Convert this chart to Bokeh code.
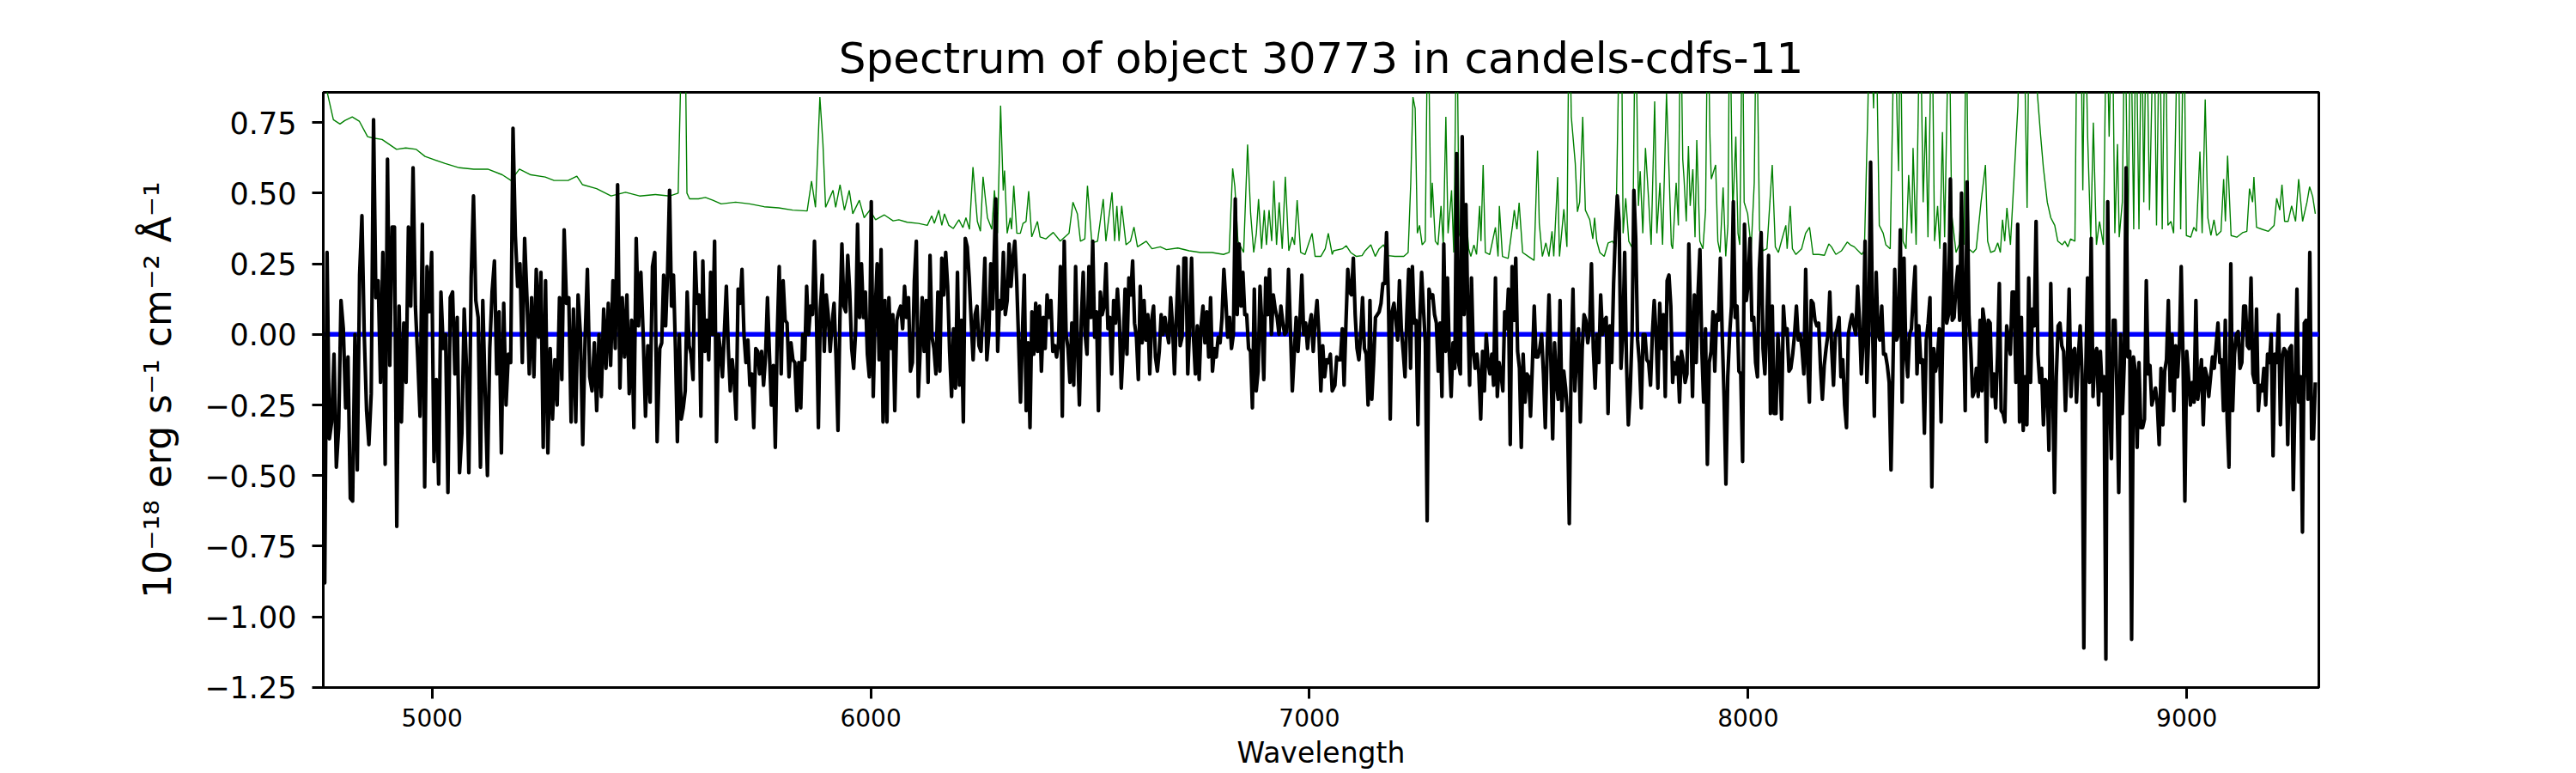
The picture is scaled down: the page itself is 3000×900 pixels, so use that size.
import numpy as np
from bokeh.plotting import figure
from bokeh.models import Span, FixedTicker, Range1d
from bokeh.embed import file_html
from bokeh.resources import INLINE

TITLE = "Spectrum of object 30773 in candels-cdfs-11"
X_LABEL = "Wavelength"
Y_LABEL = "10\u207b\u00b9\u2078 erg s\u207b\u00b9 cm\u207b\u00b2 \u00c5\u207b\u00b9"

x_ticks = [5000, 6000, 7000, 8000, 9000]
y_ticks = [-1.25, -1.0, -0.75, -0.5, -0.25, 0.0, 0.25, 0.5, 0.75]

# flux (black), read in six wavelength segments, values evenly spaced within each
seg_edges = [(4750, 5513), (5519, 6278), (6285, 7052), (7058, 7828), (7831, 8533), (8535, 9293)]

flux_1 = [0.16, -0.88, 0.29, -0.37, -0.31, -0.07, -0.47, -0.33, 0.12, 0.02, -0.26, -0.08, -0.58, -0.59, 0.0, -0.48,
          0.21, 0.42, 0.0, -0.27, -0.39, -0.21, 0.76, 0.13, 0.19, -0.17, 0.29, -0.46, 0.62, -0.11, 0.38, 0.38, -0.68,
          0.10, -0.31, 0.04, -0.17, 0.38, 0.10, 0.59, 0.10, -0.08, -0.29, 0.39, -0.54, 0.24, 0.08, 0.29, -0.45, -0.16,
          -0.53, 0.15, -0.05, 0.0, -0.56, 0.13, 0.15, -0.14, 0.06, -0.49, -0.35, 0.09, -0.12, -0.49, 0.20, 0.49, 0.12,
          0.06, -0.47, 0.12, -0.20, -0.50, -0.05, 0.15, 0.26, -0.14, 0.08, -0.42, 0.11, -0.25, -0.07, -0.10, 0.73, 0.35,
          0.17, 0.25, -0.10, 0.34, 0.13, -0.14, 0.13, -0.15, 0.23, -0.01, 0.22, -0.40, 0.19, -0.42, -0.05, -0.30, -0.09,
          -0.25, 0.13, -0.16, 0.37, 0.11, 0.13, -0.31, 0.09, -0.31, 0.14, 0.0, -0.39, -0.02, 0.23, -0.15, -0.20, -0.03,
          -0.27, 0.0, -0.22, 0.09, -0.12, 0.11, -0.11, 0.19, -0.05, 0.53, -0.19, 0.13, -0.08, 0.14, -0.21, 0.05, -0.33,
          0.34, 0.03, 0.22, 0.0, -0.29, -0.04, -0.24, 0.24, 0.29, -0.38]

flux_2 = [-0.05, -0.03, 0.21, 0.03, 0.22, 0.51, 0.10, 0.21, -0.05, -0.38, 0.0, -0.30, -0.26, -0.20, 0.15, -0.04,
          -0.07, -0.16, 0.29, 0.11, 0.14, -0.29, 0.26, -0.06, 0.05, -0.09, 0.22, 0.0, 0.33, -0.38, 0.0, -0.06, -0.15,
          0.01, 0.17, -0.05, -0.20, -0.09, -0.16, -0.30, 0.16, 0.11, 0.23, 0.0, -0.10, -0.02, -0.18, -0.14, -0.33,
          -0.05, -0.06, -0.14, -0.06, -0.18, -0.08, 0.13, -0.07, -0.25, -0.11, -0.40, 0.0, 0.24, -0.14, 0.19, 0.05,
          0.04, -0.15, -0.03, -0.09, -0.10, -0.27, -0.10, -0.26, 0.0, -0.09, 0.17, 0.0, 0.10, 0.07, 0.33, 0.07, -0.33,
          0.09, 0.21, -0.06, 0.14, 0.07, -0.06, 0.04, 0.11, -0.08, -0.34, 0.06, 0.32, 0.10, 0.08, 0.28, 0.15, -0.05,
          -0.12, 0.01, 0.39, 0.06, 0.25, 0.06, 0.15, -0.07, -0.15, 0.47, -0.22, 0.08, 0.25, -0.09, 0.30, -0.31, 0.12,
          -0.31, 0.13, -0.05, 0.07, -0.27, 0.05, 0.08, 0.10, 0.02, 0.17, 0.06, 0.13, -0.13, -0.10, 0.19, 0.33, -0.22,
          -0.05, 0.13, -0.06, 0.12, -0.17, 0.28, -0.01, -0.05, -0.14, 0.15, -0.13, 0.27, 0.14, 0.29, 0.17, -0.06,
          -0.22, 0.02, -0.19, 0.22, -0.18, 0.05, -0.31, 0.34, 0.31, 0.20, 0.05, -0.09, 0.07, 0.10, -0.04, -0.06, 0.09,
          0.27, -0.09, 0.0, 0.25, 0.09]

flux_3 = [0.48, -0.06, 0.12, 0.09, 0.29, 0.07, 0.12, 0.32, 0.17, 0.27, 0.33, 0.19, -0.02, -0.24, 0.0, 0.21, -0.27,
          -0.03, -0.33, 0.08, -0.07, 0.11, -0.06, 0.10, -0.13, 0.06, -0.05, 0.14, 0.06, 0.12, -0.06, -0.04, -0.08,
          -0.03, 0.24, -0.29, 0.33, 0.0, -0.05, -0.17, 0.04, -0.18, 0.24, -0.05, -0.25, 0.05, 0.22, 0.0, -0.07, 0.24,
          0.06, 0.33, -0.01, 0.08, -0.27, 0.15, 0.07, 0.10, 0.25, 0.02, 0.06, -0.14, 0.12, 0.04, 0.16, 0.05, -0.19,
          -0.05, 0.16, -0.07, 0.20, 0.14, 0.26, 0.04, -0.01, -0.16, 0.17, -0.03, 0.12, -0.02, 0.07, -0.14, 0.05, 0.10,
          -0.08, -0.13, -0.06, 0.07, 0.0, 0.06, 0.01, -0.03, 0.13, 0.03, -0.14, 0.06, 0.24, -0.04, -0.01, 0.27, 0.27,
          -0.14, 0.03, 0.27, -0.01, -0.14, 0.03, -0.16, 0.03, 0.10, -0.03, 0.08, -0.08, 0.13, -0.13, -0.05, -0.08,
          -0.01, -0.03, 0.06, 0.23, 0.12, -0.01, 0.06, -0.05, 0.0, 0.48, 0.07, 0.32, 0.10, 0.22, 0.07, 0.07, -0.05,
          -0.06, -0.26, 0.16, -0.20, -0.13, 0.17, 0.03, -0.16, 0.20, 0.07, 0.23, 0.0, 0.14, 0.09, 0.06, 0.0, 0.10,
          0.04, 0.0, 0.01, 0.23, 0.02, -0.20, -0.07, 0.06, -0.06, 0.05, 0.21, 0.0, 0.04, -0.05, 0.03, 0.07, -0.06,
          0.05, 0.12, 0.0, -0.20, -0.04, -0.15, -0.09, -0.10, -0.07, -0.20]

flux_4 = [-0.18, -0.08, -0.09, -0.09, 0.02, -0.18, 0.04, 0.23, 0.15, 0.14, 0.27, 0.07, -0.05, -0.09, 0.0, 0.13,
          -0.05, -0.07, -0.25, 0.12, -0.23, -0.10, 0.06, 0.07, 0.08, 0.11, 0.18, 0.18, 0.36, 0.13, -0.30, 0.08, 0.11,
          0.05, -0.02, 0.19, 0.02, -0.06, -0.15, 0.07, 0.23, -0.12, 0.24, 0.04, 0.05, -0.32, 0.05, 0.22, 0.09, -0.03,
          -0.66, 0.16, 0.13, 0.14, 0.07, 0.04, -0.13, 0.04, -0.22, 0.32, -0.06, 0.20, -0.07, -0.22, -0.03, -0.12, 0.64,
          -0.10, -0.14, 0.70, 0.07, 0.46, 0.09, -0.18, 0.20, -0.06, -0.12, -0.07, -0.14, -0.30, -0.06, -0.20, 0.0,
          -0.10, -0.14, -0.07, -0.18, 0.20, -0.22, -0.10, -0.14, -0.20, 0.08, 0.02, 0.16, -0.39, 0.24, 0.05, 0.27,
          -0.06, -0.12, -0.40, -0.07, -0.24, -0.14, -0.15, -0.29, -0.11, 0.10, -0.08, -0.08, -0.05, 0.0, -0.14, -0.33,
          -0.06, 0.14, -0.09, -0.37, -0.03, -0.17, -0.23, 0.12, -0.27, -0.13, -0.19, -0.28, -0.67, -0.10, 0.16, -0.20,
          -0.07, 0.02, -0.31, -0.05, 0.07, 0.05, -0.03, 0.02, 0.25, -0.05, -0.19, 0.0, -0.10, 0.14, 0.0, 0.05, 0.06,
          -0.28, 0.03, -0.10, 0.18, 0.36, 0.49, 0.40, -0.12, 0.0, 0.29, -0.10, -0.32, -0.20, 0.0, 0.51, 0.34, -0.02,
          -0.10, -0.26, 0.0, 0.0, -0.09, -0.10, -0.18, 0.0, 0.12, 0.0, -0.19, 0.11, -0.05, 0.07, -0.22, 0.19, 0.21,
          0.10, -0.17]

flux_5 = [-0.10, -0.14, -0.08, -0.24, -0.06, -0.10, -0.17, -0.14, 0.32, 0.05, -0.22, 0.14, -0.10, 0.15, 0.30, -0.05,
          -0.24, 0.02, -0.46, -0.10, -0.06, 0.08, -0.13, 0.07, 0.05, 0.27, 0.0, -0.22, -0.53, -0.15, 0.0, 0.10, 0.47,
          0.06, 0.10, -0.13, -0.14, -0.45, 0.39, 0.12, 0.18, 0.34, 0.05, 0.06, -0.10, -0.15, 0.23, 0.36, -0.05, -0.14,
          0.03, 0.28, -0.28, 0.10, -0.28, -0.28, 0.0, -0.10, -0.30, 0.10, 0.0, 0.02, -0.13, -0.12, -0.07, 0.0, 0.10,
          -0.02, 0.0, -0.05, -0.14, 0.23, -0.10, -0.24, 0.12, 0.11, 0.05, 0.03, 0.04, -0.12, -0.23, -0.11, -0.05, 0.0,
          0.15, -0.05, -0.18, 0.0, 0.02, 0.06, -0.15, -0.09, -0.25, -0.33, 0.0, 0.04, 0.07, 0.03, 0.0, 0.17, 0.05,
          -0.14, -0.02, 0.33, -0.17, 0.0, 0.61, 0.05, -0.29, 0.22, 0.0, -0.02, 0.10, -0.07, -0.07, -0.11, -0.17,
          -0.48, -0.14, 0.23, -0.02, 0.0, 0.37, -0.24, 0.27, -0.07, -0.15, 0.0, 0.02, 0.14, 0.24, -0.14, 0.03, -0.10,
          -0.09, -0.35, -0.02, 0.04, 0.13, -0.54, -0.05, -0.13, -0.09, 0.02, -0.31, 0.04, 0.32, 0.04, 0.07, 0.55,
          0.05, 0.06, 0.17, 0.24, 0.05, 0.50, 0.07, -0.27, 0.54, 0.07, -0.05, -0.22, -0.20, -0.12, -0.22, 0.05, -0.20]

flux_6 = [0.09, 0.04, -0.38, 0.05, 0.04, -0.22, -0.14, -0.26, -0.08, 0.18, -0.27, -0.28, -0.31, 0.03, -0.02, -0.07,
          0.15, 0.15, -0.17, 0.39, -0.31, 0.06, -0.34, -0.15, -0.32, 0.20, -0.17, 0.09, 0.03, 0.40, -0.07, -0.17,
          -0.12, -0.32, -0.16, -0.17, -0.41, 0.18, -0.17, -0.56, -0.15, 0.03, 0.04, -0.04, -0.06, -0.27, -0.10, 0.16,
          -0.22, -0.06, -0.05, -0.24, -0.08, 0.03, -0.14, -1.11, -0.15, 0.20, -0.17, 0.34, -0.22, -0.07, -0.05, -0.25,
          -0.06, -0.20, -0.15, -1.15, 0.47, -0.20, -0.44, 0.05, 0.05, -0.20, -0.56, 0.0, -0.28, -0.10, 0.59, -0.08,
          -0.06, -1.08, -0.08, -0.13, -0.40, -0.10, -0.33, -0.33, -0.30, 0.19, -0.14, -0.11, -0.25, -0.22, -0.19,
          -0.25, -0.39, -0.12, -0.32, -0.13, -0.09, 0.12, -0.20, 0.0, -0.27, -0.04, -0.15, -0.04, 0.24, -0.09, -0.59,
          -0.06, -0.15, -0.25, -0.17, -0.24, 0.12, -0.23, -0.17, -0.09, -0.32, -0.12, -0.15, -0.22, -0.15, -0.08,
          -0.12, -0.04, 0.04, -0.10, -0.09, -0.27, 0.05, -0.30, -0.47, 0.25, -0.27, -0.07, 0.0, 0.01, -0.12, -0.10,
          0.10, 0.10, -0.04, -0.05, 0.20, -0.14, -0.17, 0.09, -0.27, -0.18, -0.20, -0.12, -0.25, -0.07, -0.10, 0.0,
          -0.43, -0.07, -0.10, 0.07, -0.32, -0.08, -0.05, -0.06, -0.39, -0.05, -0.04, -0.55, -0.20, 0.16, -0.24,
          -0.15, -0.70, 0.04, 0.05, -0.23, 0.29, -0.37, -0.37, -0.17]

flux_segments = [flux_1, flux_2, flux_3, flux_4, flux_5, flux_6]

# error spectrum (green)
err_wave = [4750, 4762, 4775, 4790, 4801, 4818, 4834, 4853, 4866, 4886, 4919, 4940, 4964, 4984, 5030, 5062, 5095,
            5127, 5160, 5180, 5199, 5225, 5258, 5278, 5310, 5330, 5343, 5375, 5408, 5441, 5473,
            5509, 5542, 5561, 5571, 5576, 5581, 5587, 5607, 5623, 5640, 5659, 5692, 5724, 5757, 5790, 5822, 5855,
            5865, 5874, 5884, 5891, 5897, 5914, 5920, 5930, 5940, 5951, 5959, 5974, 5985, 5998, 6011, 6031, 6051,
            6064, 6083, 6109, 6129, 6139, 6145, 6155, 6162, 6168, 6178, 6188, 6201, 6210, 6217, 6225, 6233, 6243,
            6250, 6256, 6266, 6276,
            6282, 6289, 6296, 6302, 6305, 6311, 6318, 6321, 6326, 6333, 6341, 6347, 6354, 6360, 6367, 6380, 6386,
            6399, 6416, 6432, 6452, 6461, 6471, 6478, 6488, 6494, 6504, 6517, 6530, 6536, 6550, 6556, 6561, 6566,
            6572, 6582, 6592, 6600, 6608, 6628, 6641, 6660, 6674, 6700, 6726, 6752, 6778, 6804, 6817, 6825, 6830,
            6837, 6850, 6859, 6866, 6873, 6879, 6884, 6891, 6897, 6902, 6908, 6914, 6919, 6925, 6931, 6938, 6945,
            6953, 6961, 6966, 6972, 6980, 6990, 7000, 7006, 7013, 7026, 7036, 7043, 7052,
            7055, 7075, 7084, 7094, 7107, 7120, 7127, 7140, 7150, 7159, 7169, 7179, 7195, 7215, 7225, 7231, 7236,
            7241, 7246, 7251, 7257, 7264, 7270, 7277, 7280, 7287, 7293, 7300, 7305, 7311, 7316, 7324, 7329, 7336,
            7341, 7349, 7357, 7363, 7368, 7375, 7381, 7388, 7391, 7396, 7401, 7411, 7424, 7430, 7433, 7440, 7453,
            7463, 7467, 7473, 7478, 7486, 7499, 7512, 7520, 7524, 7531, 7539, 7546, 7553, 7557, 7566, 7570, 7580,
            7587, 7592, 7597, 7606, 7611, 7616, 7623, 7629, 7639, 7646, 7650, 7655, 7662, 7672, 7681, 7691, 7698,
            7704, 7711, 7715, 7721, 7728, 7737, 7743, 7750, 7754, 7760, 7766, 7773, 7779, 7787, 7792, 7799, 7805,
            7814, 7820, 7825,
            7828, 7836, 7841, 7846, 7851, 7854, 7859, 7864, 7868, 7874, 7879, 7883, 7890, 7897, 7903, 7908, 7913,
            7916, 7926, 7931, 7936, 7943, 7949, 7954, 7958, 7965, 7972, 7977, 7981, 7987, 7991, 7999, 8007, 8014,
            8019, 8026, 8034, 8043, 8055, 8062, 8069, 8076, 8086, 8089, 8096, 8101, 8109, 8122, 8131, 8140, 8148,
            8161, 8174, 8184, 8190, 8200, 8213, 8226, 8233, 8242, 8259, 8265, 8273, 8278, 8286, 8291, 8299, 8308,
            8314, 8324, 8334, 8340, 8343, 8347, 8353, 8360, 8366, 8373, 8376, 8383, 8392, 8399, 8405, 8410, 8419,
            8425, 8432, 8437, 8443, 8448, 8458, 8464, 8474, 8481, 8487, 8492, 8497, 8503, 8513, 8520, 8531,
            8541, 8546, 8553, 8562, 8569, 8575, 8580, 8585, 8590, 8598, 8608, 8615, 8621, 8628, 8636, 8641, 8647,
            8660, 8667, 8673, 8682, 8690, 8699, 8706, 8716, 8722, 8729, 8735, 8745, 8750, 8758, 8763, 8768, 8774,
            8781, 8787, 8794, 8801, 8810, 8817, 8823, 8830, 8836, 8842, 8846, 8853, 8859, 8866, 8872, 8879, 8884,
            8891, 8897, 8902, 8908, 8915, 8925, 8931, 8938, 8944, 8951, 8957, 8964, 8970, 8980, 8986, 8993, 8999,
            9009, 9016, 9022, 9030, 9035, 9042, 9048, 9055, 9062, 9068, 9078, 9084, 9088, 9093, 9101, 9114, 9127,
            9137, 9143, 9150, 9153, 9159, 9172, 9186, 9199, 9205, 9212, 9217, 9223, 9231, 9239, 9248, 9255, 9264,
            9274, 9280, 9287, 9293]

err_flux = [0.95, 0.85, 0.76, 0.745, 0.757, 0.77, 0.755, 0.70, 0.695, 0.69, 0.655, 0.66, 0.655, 0.63, 0.605, 0.59,
            0.585, 0.585, 0.565, 0.545, 0.585, 0.565, 0.557, 0.545, 0.545, 0.56, 0.53, 0.516, 0.49, 0.503, 0.49,
            0.495, 0.49, 0.50, 1.2, 1.2, 0.50, 0.48, 0.48, 0.485, 0.475, 0.462, 0.468, 0.462, 0.452, 0.448, 0.44,
            0.437, 0.543, 0.45, 0.84, 0.675, 0.45, 0.51, 0.45, 0.53, 0.44, 0.51, 0.427, 0.475, 0.413, 0.44, 0.406,
            0.423, 0.402, 0.406, 0.397, 0.393, 0.386, 0.42, 0.393, 0.44, 0.386, 0.427, 0.386, 0.375, 0.406, 0.378,
            0.413, 0.372, 0.592, 0.40, 0.365, 0.558, 0.413, 0.372,
            0.51, 0.358, 0.81, 0.51, 0.58, 0.358, 0.413, 0.372, 0.526, 0.358, 0.358, 0.393, 0.40, 0.507, 0.345, 0.40,
            0.345, 0.338, 0.361, 0.33, 0.358, 0.468, 0.427, 0.33, 0.338, 0.526, 0.324, 0.33, 0.479, 0.33, 0.503, 0.33,
            0.455, 0.33, 0.455, 0.317, 0.33, 0.38, 0.31, 0.33, 0.303, 0.31, 0.30, 0.306, 0.296, 0.29, 0.29, 0.283,
            0.29, 0.588, 0.523, 0.33, 0.29, 0.672, 0.427, 0.29, 0.358, 0.479, 0.303, 0.44, 0.317, 0.44, 0.33, 0.544,
            0.317, 0.468, 0.303, 0.558, 0.296, 0.345, 0.317, 0.475, 0.29, 0.283, 0.33, 0.358, 0.276, 0.276, 0.303,
            0.358, 0.283,
            0.296, 0.303, 0.314, 0.29, 0.276, 0.279, 0.296, 0.317, 0.276, 0.303, 0.317, 0.279, 0.276, 0.276, 0.29,
            0.537, 0.84, 0.80, 0.358, 0.386, 0.317, 0.33, 1.2, 0.413, 0.537, 0.33, 0.317, 0.455, 0.317, 0.77, 0.358,
            0.51, 0.29, 1.2, 0.358, 0.317, 0.427, 0.303, 0.276, 0.317, 0.283, 0.455, 0.33, 0.60, 0.29, 0.283, 0.379,
            0.276, 0.455, 0.276, 0.269, 0.386, 0.44, 0.372, 0.466, 0.29, 0.276, 0.262, 0.65, 0.393, 0.276, 0.324,
            0.276, 0.365, 0.276, 0.557, 0.276, 0.443, 0.31, 1.2, 0.77, 0.605, 0.434, 0.468, 0.77, 0.44, 0.406, 0.338,
            0.413, 0.33, 0.29, 0.276, 0.324, 0.33, 0.31, 0.853, 1.2, 0.358, 0.482, 0.33, 0.303, 1.2, 0.455, 0.578,
            0.358, 0.66, 0.482, 0.317, 0.825, 0.358, 0.537, 0.317, 0.853, 0.565, 0.317,
            0.303, 0.537, 0.386, 1.2, 0.62, 0.55, 0.40, 0.667, 0.455, 0.585, 0.344, 0.688, 0.33, 0.303, 0.44, 1.2,
            0.70, 0.55, 0.60, 0.33, 0.29, 0.52, 0.276, 0.386, 1.2, 0.427, 0.70, 0.358, 0.317, 1.2, 0.468, 0.427,
            0.303, 0.537, 1.2, 0.372, 0.296, 0.303, 0.60, 0.31, 0.29, 0.33, 0.386, 0.303, 0.455, 0.303, 0.283, 0.303,
            0.358, 0.379, 0.283, 0.283, 0.28, 0.32, 0.31, 0.283, 0.296, 0.327, 0.317, 0.31, 0.283, 0.296, 0.80, 1.2,
            0.80, 1.2, 0.386, 0.358, 0.317, 0.303, 1.2, 0.743, 0.578, 1.2, 0.33, 0.303, 0.564, 0.358, 0.66, 0.317,
            1.2, 0.468, 0.77, 0.344, 1.2, 0.33, 0.455, 0.303, 0.716, 0.344, 1.2, 0.427, 0.29, 0.317, 0.455, 0.317,
            1.2, 0.303, 0.29, 0.303, 0.468,
            0.60, 0.33, 0.29, 0.296, 0.324, 0.29, 0.406, 0.33, 0.448, 0.317, 0.605, 0.81, 1.2, 1.2, 0.448, 1.2, 1.2,
            0.84, 0.70, 0.592, 0.468, 0.413, 0.386, 0.33, 0.317, 0.33, 0.31, 0.338, 0.33, 1.2, 1.2, 0.51, 1.2, 0.70,
            0.338, 0.75, 0.317, 0.40, 0.317, 1.2, 0.70, 1.2, 0.358, 0.674, 0.344, 0.468, 1.2, 0.33, 1.2, 0.372, 1.2,
            0.372, 1.2, 0.468, 1.2, 0.44, 1.2, 0.386, 1.2, 0.372, 1.2, 0.386, 0.40, 0.358, 1.2, 0.372, 1.2, 0.35,
            0.344, 0.379, 0.365, 0.647, 0.358, 0.832, 0.413, 0.35, 0.406, 0.35, 0.365, 0.55, 0.40, 0.633, 0.35, 0.344,
            0.36, 0.365, 0.516, 0.468, 0.557, 0.379, 0.372, 0.365, 0.386, 0.482, 0.44, 0.53, 0.40, 0.40, 0.455, 0.40,
            0.55, 0.40, 0.468, 0.523, 0.488, 0.427]

wave = np.concatenate([np.linspace(a, b, len(f)) for (a, b), f in zip(seg_edges, flux_segments)])
flux = np.concatenate([np.asarray(f, dtype=float) for f in flux_segments])

FONT = "DejaVu Sans"

p = figure(frame_width=2324, frame_height=693,
           x_range=Range1d(4752, 9301), y_range=Range1d(-1.2503, 0.857),
           min_border_left=376, min_border_right=284, min_border_top=107, min_border_bottom=99,
           output_backend="svg", toolbar_location=None, title=TITLE)

p.title.text_font = FONT
p.title.text_font_size = "50px"
p.title.text_font_style = "normal"
p.title.align = "center"
p.title.text_color = "black"
p.title.standoff = 22

p.background_fill_color = "white"
p.border_fill_color = "white"
p.outline_line_color = "black"
p.outline_line_width = 3
p.grid.visible = False

zero = Span(location=0, dimension="width", line_color="blue", line_width=5.5, level="underlay")
p.add_layout(zero)

p.line(err_wave, err_flux, line_color="green", line_width=1.4)
p.line(wave, flux, line_color="black", line_width=4.2, line_join="round")

for ax in (p.xaxis[0], p.yaxis[0]):
    ax.axis_line_width = 3
    ax.axis_line_color = "black"
    ax.major_tick_line_width = 3
    ax.major_tick_line_color = "black"
    ax.major_tick_out = 13
    ax.major_tick_in = 0
    ax.minor_tick_line_color = None
    ax.major_label_text_font = FONT
    ax.major_label_text_color = "black"
    ax.axis_label_text_font = FONT
    ax.axis_label_text_font_style = "normal"
    ax.axis_label_text_color = "black"

p.xaxis.ticker = FixedTicker(ticks=x_ticks)
p.xaxis.major_label_overrides = {t: str(t) for t in x_ticks}
p.xaxis.major_label_text_font_size = "28px"
p.xaxis.major_label_standoff = 11
p.xaxis.axis_label = X_LABEL
p.xaxis.axis_label_text_font_size = "33px"
p.xaxis.axis_label_standoff = 8

p.yaxis.ticker = FixedTicker(ticks=y_ticks)
p.yaxis.major_label_overrides = {t: f"{t:.2f}".replace("-", "\u2212") for t in y_ticks}
p.yaxis.major_label_text_font_size = "35px"
p.yaxis.major_label_standoff = 18
p.yaxis.axis_label = Y_LABEL
p.yaxis.axis_label_text_font_size = "44px"
p.yaxis.axis_label_standoff = 26

open("out.html", "w").write(file_html(p, INLINE))
